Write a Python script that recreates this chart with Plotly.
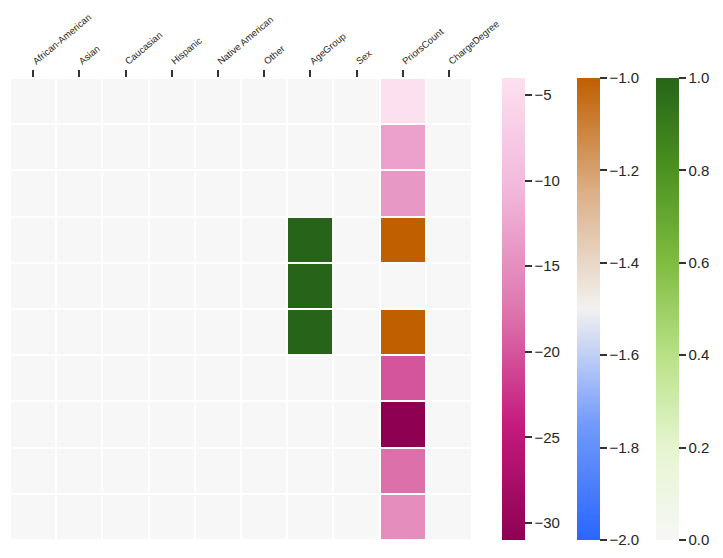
import numpy as np
import plotly.graph_objects as go

columns = ['African-American', 'Asian', 'Caucasian', 'Hispanic', 'Native American',
           'Other', 'AgeGroup', 'Sex', 'PriorsCount', 'ChargeDegree']
n_rows = 10

# per-column values (rows top to bottom)
age_group = [0, 0, 0, 1, 1, 1, 0, 0, 0, 0]
priors_count = [-4, -13, -14, -1, 0, -1, -20, -31, -18, -15]
other_cols = [0] * n_rows

pink_ticks = [-5, -10, -15, -20, -25, -30]
orange_ticks = [-2.0, -1.8, -1.6, -1.4, -1.2, -1.0]
green_ticks = [0.0, 0.2, 0.4, 0.6, 0.8, 1.0]

# build the full matrix (rows x columns)
col_values = {c: other_cols for c in columns}
col_values['AgeGroup'] = age_group
col_values['PriorsCount'] = priors_count
z = np.array([col_values[c] for c in columns], dtype=float).T

# split the cells into three colour ranges
z_pink = np.where(z < -2, z, np.nan)
z_orange = np.where((z >= -2) & (z < 0), z, np.nan)
z_green = np.where(z >= 0, z, np.nan)

rows = list(range(n_rows))

pink_scale = [[0, '#8e0152'], [0.25, '#c51b7d'], [0.5, '#de77ae'],
              [0.75, '#f1b6da'], [1, '#fde0ef']]
orange_scale = [[0, '#2a66ff'], [0.25, '#729afb'], [0.5, '#f2f1f0'],
                [0.75, '#dcb088'], [1, '#bf5f00']]
green_scale = [[0, '#f7f7f7'], [0.2, '#e6f5d0'], [0.4, '#b8e186'],
               [0.6, '#7fbc41'], [0.8, '#4d9221'], [1, '#276419']]

cb_common = dict(thickness=23, len=1, lenmode='fraction', y=0.5, yanchor='middle',
                 xanchor='left', xpad=0, ypad=0, outlinewidth=0,
                 ticks='outside', ticklen=7, tickwidth=2, tickcolor='#333333',
                 tickprefix='\u00a0', tickfont=dict(size=15, color='#262626'))

fig = go.Figure()
fig.add_trace(go.Heatmap(
    z=z_pink, x=columns, y=rows, colorscale=pink_scale, zmin=-31, zmax=-4,
    xgap=2, ygap=2, hoverongaps=False,
    colorbar=dict(x=1.065, tickvals=pink_ticks, **cb_common)))
fig.add_trace(go.Heatmap(
    z=z_orange, x=columns, y=rows, colorscale=orange_scale, zmin=-2, zmax=-1,
    xgap=2, ygap=2, hoverongaps=False,
    colorbar=dict(x=1.227, tickvals=orange_ticks, tickformat='.1f', **cb_common)))
fig.add_trace(go.Heatmap(
    z=z_green, x=columns, y=rows, colorscale=green_scale, zmin=0, zmax=1,
    xgap=2, ygap=2, hoverongaps=False,
    colorbar=dict(x=1.398, tickvals=green_ticks, tickformat='.1f', **cb_common)))

# the page body adds an 8px offset, so margins are trimmed to compensate
fig.update_layout(
    width=723, height=558,
    margin=dict(l=2, r=259, t=70, b=26, autoexpand=False),
    paper_bgcolor='white', plot_bgcolor='white',
    font=dict(family='Liberation Sans, Arial, sans-serif', color='#262626'),
    xaxis=dict(side='top', tickangle=-40, ticks='outside', ticklen=7, tickwidth=2,
               tickcolor='#333333', tickfont=dict(size=9.5), showgrid=False,
               zeroline=False, showline=False, automargin=False),
    yaxis=dict(autorange='reversed', showticklabels=False, showgrid=False,
               zeroline=False, showline=False, ticks='', automargin=False),
)

fig.write_html("out.html")
